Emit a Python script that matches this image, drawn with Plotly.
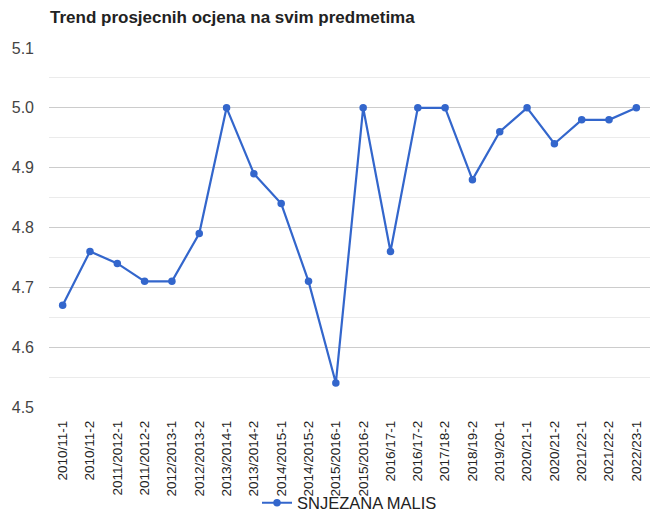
import plotly.graph_objects as go

categories = ["2010/11-1", "2010/11-2", "2011/2012-1", "2011/2012-2", "2012/2013-1",
              "2012/2013-2", "2013/2014-1", "2013/2014-2", "2014/2015-1", "2014/2015-2",
              "2015/2016-1", "2015/2016-2", "2016/17-1", "2016/17-2", "2017/18-2",
              "2018/19-2", "2019/20-1", "2020/21-1", "2020/21-2", "2021/22-1",
              "2021/22-2", "2022/23-1"]
values = [4.67, 4.76, 4.74, 4.71, 4.71, 4.79, 5.00, 4.89, 4.84, 4.71, 4.54,
          5.00, 4.76, 5.00, 5.00, 4.88, 4.96, 5.00, 4.94, 4.98, 4.98, 5.00]
series_name = "SNJEZANA MALIS"
title_text = "Trend prosjecnih ocjena na svim predmetima"
y_ticks = [4.5, 4.6, 4.7, 4.8, 4.9, 5.0, 5.1]

fig = go.Figure()
fig.add_trace(go.Scatter(
    x=categories, y=values, name=series_name, mode="lines+markers",
    line=dict(color="#3366CC", width=2.2),
    marker=dict(color="#3366CC", size=7.5),
    showlegend=True,
))

fig.update_layout(
    width=650, height=511,
    margin=dict(l=49, r=0, t=48, b=104, autoexpand=False),
    paper_bgcolor="white", plot_bgcolor="white",
    font=dict(family="Liberation Sans, Arial, sans-serif", color="#444444"),
    title=dict(text="<b>" + title_text + "</b>", x=50/650, xref="container", xanchor="left",
               y=1 - 17/511, yref="container", yanchor="middle",
               font=dict(size=17, color="#222222")),
    showlegend=True,
    legend=dict(orientation="h", x=0.5, xanchor="center", y=(407-503)/359, yanchor="middle",
                font=dict(size=16.5, color="#222222"), bgcolor="rgba(0,0,0,0)"),
    xaxis=dict(type="category", range=[-0.5, len(categories) - 0.5],
               tickangle=-90, tickfont=dict(size=13.5, color="#222222"),
               showgrid=False, zeroline=False, showline=False, ticks="",
               ticklabelstandoff=10, automargin=False),
    yaxis=dict(range=[4.5, 5.1], tickvals=y_ticks, tickformat=".1f",
               tickfont=dict(size=16, color="#444444"),
               showgrid=True, gridcolor="#cccccc", gridwidth=1,
               zeroline=False, showline=False, ticks="",
               ticklabelstandoff=14, automargin=False,
               minor=dict(dtick=0.05, tick0=4.5, showgrid=True, gridcolor="#ebebeb", gridwidth=1)),
)

fig.write_html("out.html", config={"displayModeBar": False},
               post_script="document.body.style.margin='0';document.body.style.overflow='hidden';")
